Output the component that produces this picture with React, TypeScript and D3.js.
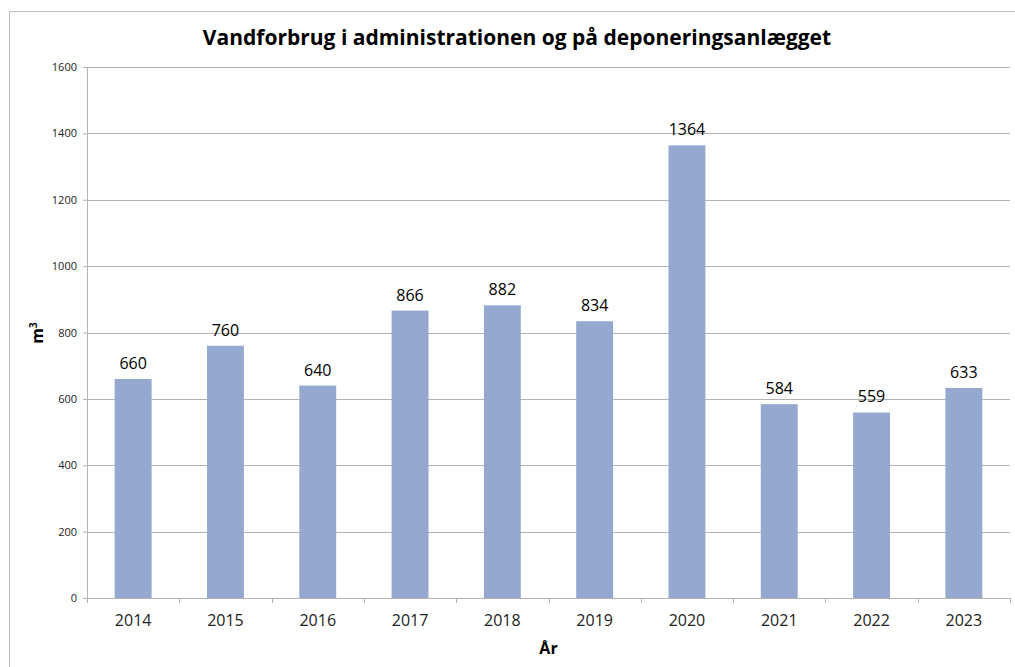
import React, { useEffect, useRef } from 'react';
import * as d3 from 'd3';

const years = ['2014', '2015', '2016', '2017', '2018', '2019', '2020', '2021', '2022', '2023'];
const consumption = [660, 760, 640, 866, 882, 834, 1364, 584, 559, 633];
const yTicks = [0, 200, 400, 600, 800, 1000, 1200, 1400, 1600];

const App: React.FC = () => {
    const chartRef = useRef<SVGSVGElement | null>(null);

    useEffect(() => {
        if (!chartRef.current) return;

        const width = 1015;
        const height = 667;
        const margin = { top: 67, right: 5, bottom: 69, left: 87 };
        const innerW = width - margin.left - margin.right;
        const innerH = height - margin.top - margin.bottom;

        const root = d3.select(chartRef.current);
        root.selectAll('*').remove();
        root.attr('width', width).attr('height', height);

        // outer frame
        root.append('rect')
            .attr('x', 9.5).attr('y', 11.5)
            .attr('width', 1020).attr('height', 680)
            .attr('fill', 'white')
            .attr('stroke', '#bdbdbd');

        root.append('text')
            .attr('x', 517)
            .attr('y', 45)
            .attr('text-anchor', 'middle')
            .style('font-family', '"Open Sans", sans-serif')
            .style('font-weight', 'bold')
            .style('font-size', '21px')
            .style('fill', '#000')
            .text('Vandforbrug i administrationen og på deponeringsanlægget');

        const svg = root.append('g')
            .attr('transform', `translate(${margin.left}, ${margin.top})`);

        const x = d3.scaleBand()
            .domain(years)
            .range([0, innerW])
            .paddingInner(0.6)
            .paddingOuter(0.3);

        const y = d3.scaleLinear()
            .domain([0, 1600])
            .range([innerH, 0]);

        // gridlines
        svg.selectAll('line.grid')
            .data(yTicks.filter(t => t > 0))
            .enter()
            .append('line')
            .attr('class', 'grid')
            .attr('x1', 0)
            .attr('x2', innerW)
            .attr('y1', d => Math.round(y(d)) + 0.5)
            .attr('y2', d => Math.round(y(d)) + 0.5)
            .attr('stroke', '#b3b3b3')
            .attr('stroke-width', 1);

        // bars
        svg.selectAll('rect.bar')
            .data(consumption)
            .enter()
            .append('rect')
            .attr('class', 'bar')
            .attr('x', (d, i) => x(years[i])!)
            .attr('y', d => y(d))
            .attr('width', x.bandwidth())
            .attr('height', d => innerH - y(d))
            .attr('fill', '#95a9d0');

        // value labels
        svg.selectAll('text.bar-label')
            .data(consumption)
            .enter()
            .append('text')
            .attr('class', 'bar-label')
            .attr('x', (d, i) => x(years[i])! + x.bandwidth() / 2)
            .attr('y', d => y(d) - 10)
            .attr('text-anchor', 'middle')
            .text(d => `${d}`)
            .style('font-family', '"Open Sans", sans-serif')
            .style('font-size', '16px')
            .style('fill', '#000');

        // y axis
        const yAxis = svg.append('g')
            .call(d3.axisLeft(y).tickValues(yTicks).tickSize(4).tickPadding(6).tickFormat(d3.format('d')));
        yAxis.select('.domain').attr('stroke', '#b3b3b3').attr('d', `M0.5,0V${innerH}`);
        yAxis.selectAll('.tick line').attr('stroke', '#b3b3b3');
        yAxis.selectAll('text')
            .style('font-family', '"Open Sans", sans-serif')
            .style('font-size', '11px')
            .style('fill', '#222');

        // x axis
        const xAxis = svg.append('g')
            .attr('transform', `translate(0, ${innerH})`)
            .call(d3.axisBottom(x).tickSize(0).tickPadding(17));
        xAxis.select('.domain').attr('stroke', '#b3b3b3');
        xAxis.selectAll('text')
            .style('font-family', '"Open Sans", sans-serif')
            .style('font-size', '16px')
            .style('fill', '#222');

        // category boundary ticks
        const step = x.step();
        const bounds = d3.range(years.length + 1).map(i => x(years[0])! - step * 0.3 + i * step);
        xAxis.selectAll('line.bound')
            .data(bounds)
            .enter()
            .append('line')
            .attr('class', 'bound')
            .attr('x1', d => Math.round(d) + 0.5)
            .attr('x2', d => Math.round(d) + 0.5)
            .attr('y1', 0)
            .attr('y2', 5)
            .attr('stroke', '#b3b3b3');

        // axis titles
        root.append('text')
            .attr('x', margin.left + innerW / 2)
            .attr('y', 654)
            .attr('text-anchor', 'middle')
            .style('font-family', '"Open Sans", sans-serif')
            .style('font-weight', 'bold')
            .style('font-size', '16px')
            .text('År');

        const yTitle = root.append('text')
            .attr('transform', `translate(43, 333) rotate(-90)`)
            .attr('text-anchor', 'middle')
            .style('font-family', '"Open Sans", sans-serif')
            .style('font-weight', 'bold')
            .style('font-size', '16px');
        yTitle.append('tspan').text('m');
        yTitle.append('tspan').attr('dy', -6).style('font-size', '10px').text('3');

    }, []);

    return <svg ref={chartRef} style={{ position: 'absolute', left: 0, top: 0 }} />;
};

export default App;
